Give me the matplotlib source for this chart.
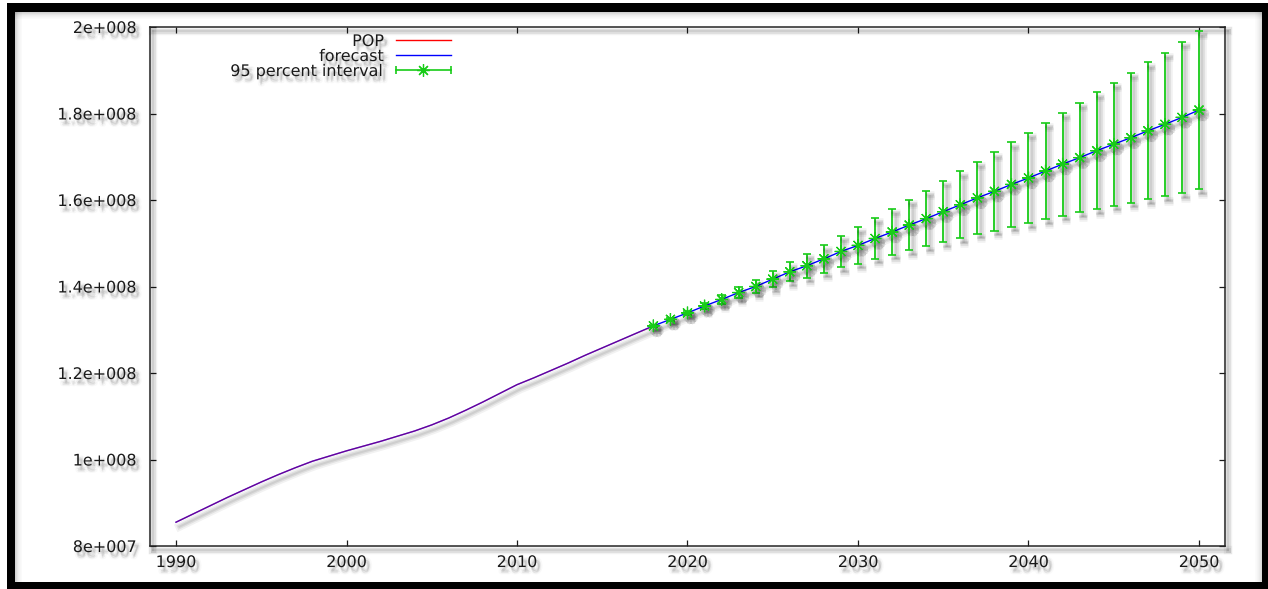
import matplotlib
matplotlib.use("Agg")
import matplotlib.pyplot as plt
import matplotlib.patheffects as pe
from matplotlib.lines import Line2D
from matplotlib.patches import Rectangle
from matplotlib.legend_handler import HandlerLine2D, HandlerTuple

# ---- data (population, millions) ----
hist_years = list(range(1990, 2019))
pop = [85.5, 87.4, 89.3, 91.2, 93.0, 94.8, 96.5, 98.1, 99.6, 100.8,
       102.0, 103.1, 104.2, 105.4, 106.6, 108.0, 109.6, 111.4, 113.3, 115.3,
       117.3, 118.9, 120.6, 122.3, 124.1, 125.8, 127.5, 129.2, 130.8]

fc_years = list(range(2018, 2051))
forecast = [130.9, 132.4, 133.9, 135.5, 137.0, 138.6, 140.0, 141.7, 143.4, 144.8,
            146.4, 148.1, 149.5, 151.1, 152.6, 154.2, 155.7, 157.3, 158.9, 160.5,
            162.0, 163.6, 165.1, 166.7, 168.3, 169.8, 171.4, 172.9, 174.4, 176.0,
            177.5, 179.1, 180.8]
# half width of the 95 percent interval
half_width = [0.25, 0.35, 0.5, 0.7, 0.95, 1.2, 1.5, 1.9, 2.24, 2.78,
              3.17, 3.66, 4.24, 4.75, 5.32, 5.86, 6.44, 7.1, 7.7, 8.37,
              9.07, 9.76, 10.5, 11.2, 11.9, 12.65, 13.5, 14.2, 15.0, 15.8,
              16.6, 17.5, 18.3]

x_ticks = [1990, 2000, 2010, 2020, 2030, 2040, 2050]
y_ticks = [8e7, 1e8, 1.2e8, 1.4e8, 1.6e8, 1.8e8, 2e8]
y_tick_labels = ["8e+007", "1e+008", "1.2e+008", "1.4e+008",
                 "1.6e+008", "1.8e+008", "2e+008"]
legend_labels = ["POP", "forecast", "95 percent interval"]

SCALE = 1e6
GREEN = "#18cc18"
W, H = 1268, 589

plt.rcParams["font.family"] = ["DejaVu Sans"]


def line_shadow(lw):
    """Soft grey drop shadow for lines."""
    return [
        pe.SimpleLineShadow(offset=(2.5, -3.2), shadow_color="k", alpha=0.05, linewidth=lw + 5),
        pe.SimpleLineShadow(offset=(2.5, -3.2), shadow_color="k", alpha=0.07, linewidth=lw + 2.5),
        pe.SimpleLineShadow(offset=(2.5, -3.2), shadow_color="k", alpha=0.08, linewidth=lw + 0.5),
        pe.Normal(),
    ]


def text_shadow():
    """Blurred drop shadow for text."""
    effects = []
    for dx, dy in [(1.5, -2.5), (2.5, -3.0), (3.5, -3.5), (2.0, -4.0), (3.0, -2.0), (2.5, -4.5)]:
        effects.append(pe.SimplePatchShadow(offset=(dx, dy), shadow_rgbFace="0.35", alpha=0.07))
    effects.append(pe.Stroke(linewidth=4, foreground="0.6", alpha=0.06, offset=(2.5, -3.2)))
    effects.append(pe.Normal())
    return effects


fig = plt.figure(figsize=(W / 100, H / 100), dpi=100)
fig.patch.set_facecolor("white")
ax = fig.add_axes([150 / W, 1 - 546 / H, (1225 - 150) / W, (546 - 27) / H])

pop_v = [v * SCALE for v in pop]
fc_v = [v * SCALE for v in forecast]
hw_v = [v * SCALE for v in half_width]

# in-sample fit follows the observed series, then the out-of-sample forecast
fit_years = hist_years[:-1] + fc_years
fit_v = pop_v[:-1] + fc_v
ax.plot(fit_years, fit_v, color="#0000ff", lw=1.0, zorder=3, path_effects=line_shadow(1.0))
ax.plot(hist_years, pop_v, color="#ff0000", lw=1.0, alpha=0.4, zorder=4)

star = (8, 2, 0)
eb = ax.errorbar(fc_years, fc_v, yerr=hw_v, fmt="none", ecolor=GREEN,
                 elinewidth=1.3, capsize=3, capthick=1.2, zorder=5)
for art in list(eb.lines[1]) + list(eb.lines[2]):
    art.set_path_effects(line_shadow(1.2))
ax.plot(fc_years, fc_v, linestyle="none", marker=star, markersize=9,
        markeredgewidth=0.9, color=GREEN, zorder=6, path_effects=line_shadow(0.8))

ax.set_xlim(1988.475, 2051.525)
ax.set_ylim(8e7, 2e8)
ax.set_xticks(x_ticks)
ax.set_xticklabels([str(t) for t in x_ticks])
ax.set_yticks(y_ticks)
ax.set_yticklabels(y_tick_labels)
ax.tick_params(direction="in", top=True, right=True, length=4.5, width=0.9,
               color="0.1", labelsize=11.5, labelcolor="0.1")
ax.tick_params(axis="y", pad=9.5)
ax.tick_params(axis="x", pad=6.5)
for lab in ax.get_xticklabels() + ax.get_yticklabels():
    lab.set_path_effects(text_shadow())
for sp in ax.spines.values():
    sp.set_linewidth(1.1)
    sp.set_color("0.15")
    sp.set_path_effects(line_shadow(1.1))

# legend: text on the left, sample on the right
pop_h = Line2D([], [], color="#ff0000", lw=1.0)
fc_h = Line2D([], [], color="#0000ff", lw=1.0)
ci_line = Line2D([], [], color=GREEN, lw=1.2, marker="|", markersize=6, markeredgewidth=1.2)
ci_star = Line2D([], [], color=GREEN, linestyle="none", marker=star, markersize=9, markeredgewidth=0.9)
leg = ax.legend([pop_h, fc_h, (ci_line, ci_star)], legend_labels,
                handler_map={ci_line: HandlerLine2D(numpoints=2, marker_pad=0),
                             ci_star: HandlerLine2D(numpoints=1),
                             tuple: HandlerTuple(ndivide=1)},
                loc="upper right", bbox_to_anchor=(451 / W, 1 - 34 / H),
                bbox_transform=fig.transFigure, frameon=False, markerfirst=False,
                fontsize=11.5, handlelength=3.45, handletextpad=0.75,
                labelspacing=0.0, borderpad=0, borderaxespad=0)
for t in leg.get_texts():
    t.set_color("0.1")
    t.set_path_effects(text_shadow())

# black picture frame with a soft inner shadow
def fig_rect(x0, y0, x1, y1, color, alpha=1.0):
    fig.patches.append(Rectangle((x0 / W, 1 - y1 / H), (x1 - x0) / W, (y1 - y0) / H,
                                 transform=fig.transFigure, facecolor=color,
                                 edgecolor="none", alpha=alpha, zorder=0))

for i, a in enumerate([0.18, 0.14, 0.1, 0.07, 0.05, 0.03, 0.02]):
    fig_rect(15, 12 + i, 1262, 13 + i, "k", a)     # top inner shadow
    fig_rect(15 + i, 12, 16 + i, 582, "k", a)      # left inner shadow
    fig_rect(1261 - i, 12, 1262 - i, 582, "k", a * 0.8)  # right inner shadow
fig_rect(7, 3, W, 12, "k")
fig_rect(7, 3, 15, 589, "k")
fig_rect(1262, 3, W, 589, "k")
fig_rect(7, 582, W, 589, "k")

fig.savefig("out.png", dpi=100)
